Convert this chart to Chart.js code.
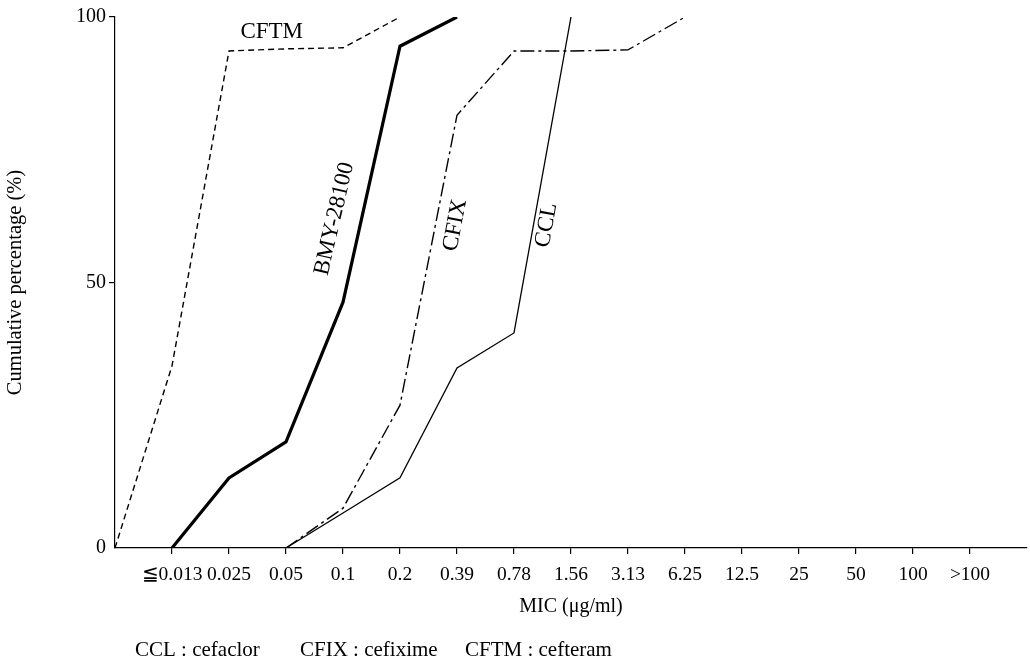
<!DOCTYPE html>
<html>
<head>
<meta charset="utf-8">
<script src="https://cdn.jsdelivr.net/npm/chart.js@4/dist/chart.umd.min.js"></script>
<style>
  html, body { margin: 0; padding: 0; background: #fff; }
  #wrap { width: 1030px; height: 662px; }
</style>
</head>
<body>
<div id="wrap"><canvas id="micChart" width="1030" height="662"></canvas></div>
<script>
// MIC categories (x axis)
const mic = ['≦0.013', '0.025', '0.05', '0.1', '0.2', '0.39', '0.78', '1.56',
  '3.13', '6.25', '12.5', '25', '50', '100', '>100'];

// cumulative percentage per MIC category (null = no point)
const ccl  = [null, null, 0, 6.6, 13.2, 33.9, 40.5, 100];
const cfix = [null, null, 0, 7.5, 26.9, 81.5, 93.6, 93.6, 93.8, 100];
const bmy  = [0, 13.2, 20, 46.3, 94.5, 100];
const cftm = [34.3, 93.6, 94, 94.2, 100];
const cftmStart = 0;   // CFTM starts on the axis, one step left of the first category

const yTicks = [0, 50, 100];
const footer = ['CCL : cefaclor', 'CFIX : cefixime', 'CFTM : cefteram'];

const serif = '"Liberation Serif", "DejaVu Serif", serif';

function toPoints(values) {
  return values.map((v, i) => ({ x: i, y: v })).filter(p => p.y !== null);
}

// curve names, placed in data units
const curveLabels = [
  { text: 'CFTM', x: 1.75, y: 97.2, rot: 0 },
  { text: 'BMY-28100', x: 2.85, y: 62, rot: -77 },
  { text: 'CFIX', x: 4.97, y: 60.8, rot: -79 },
  { text: 'CCL', x: 6.57, y: 60.8, rot: -80 }
];

const textPlugin = {
  id: 'textPlugin',
  afterDatasetsDraw(chart) {
    const c = chart.ctx;
    const xs = chart.scales.x, ys = chart.scales.y;
    c.save();
    c.fillStyle = '#000';
    c.textAlign = 'center';
    c.textBaseline = 'middle';
    c.font = '23px ' + serif;
    curveLabels.forEach(l => {
      c.save();
      c.translate(xs.getPixelForValue(l.x), ys.getPixelForValue(l.y));
      c.rotate(l.rot * Math.PI / 180);
      c.fillText(l.text, 0, 0);
      c.restore();
    });
    // footer legend
    c.textAlign = 'left';
    c.font = '21px ' + serif;
    const fx = [135, 300, 465];
    footer.forEach((t, i) => c.fillText(t, fx[i], 650));
    c.restore();
  }
};

new Chart(document.getElementById('micChart'), {
  type: 'line',
  data: {
    datasets: [
      {
        label: 'CFTM',
        data: [{ x: -1, y: cftmStart }].concat(toPoints(cftm)),
        borderColor: '#000',
        borderWidth: 1.4,
        borderDash: [6, 4]
      },
      {
        label: 'BMY-28100',
        data: toPoints(bmy),
        borderColor: '#000',
        borderWidth: 3.2
      },
      {
        label: 'CFIX',
        data: toPoints(cfix),
        borderColor: '#000',
        borderWidth: 1.4,
        borderDash: [14, 4, 3, 4]
      },
      {
        label: 'CCL',
        data: toPoints(ccl),
        borderColor: '#000',
        borderWidth: 1.3
      }
    ]
  },
  options: {
    responsive: false,
    animation: false,
    events: [],
    layout: { padding: { left: 0, right: 3, top: 17, bottom: 0 } },
    elements: {
      point: { radius: 0 },
      line: { tension: 0, fill: false, borderCapStyle: 'butt' }
    },
    plugins: {
      legend: { display: false },
      tooltip: { enabled: false }
    },
    scales: {
      x: {
        type: 'linear',
        min: -1,
        max: 15,
        afterBuildTicks: axis => {
          axis.ticks = mic.map((m, i) => ({ value: i }));
        },
        afterFit: scale => { scale.height = 114; },
        ticks: {
          autoSkip: false,
          maxRotation: 0,
          padding: 9,
          color: '#000',
          font: { family: serif, size: 19.5 },
          callback: v => mic[v] !== undefined ? mic[v] : ''
        },
        grid: {
          drawOnChartArea: false,
          drawTicks: true,
          tickLength: 6,
          color: '#000',
          lineWidth: 1.2
        },
        border: { display: true, color: '#000', width: 1.2 },
        title: {
          display: true,
          text: 'MIC (μg/ml)',
          color: '#000',
          font: { family: serif, size: 20 },
          padding: { top: 0, bottom: 43 }
        }
      },
      y: {
        min: 0,
        max: 100,
        afterBuildTicks: axis => {
          axis.ticks = yTicks.map(v => ({ value: v }));
        },
        afterFit: scale => { scale.width = 115; },
        ticks: {
          padding: 3,
          color: '#000',
          font: { family: serif, size: 20 }
        },
        grid: {
          drawOnChartArea: false,
          drawTicks: true,
          tickLength: 6,
          color: ctx => ctx.tick && ctx.tick.value === 0 ? 'rgba(0,0,0,0)' : '#000',
          lineWidth: 1.2
        },
        border: { display: true, color: '#000', width: 1.2 },
        title: {
          display: true,
          text: 'Cumulative percentage (%)',
          color: '#000',
          font: { family: serif, size: 20.5 },
          padding: { top: 3, bottom: 0 }
        }
      }
    }
  },
  plugins: [textPlugin]
});
</script>
</body>
</html>
